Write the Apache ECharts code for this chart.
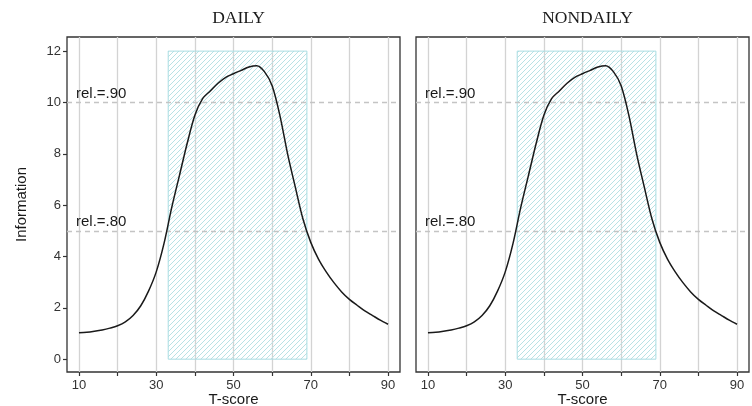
<!DOCTYPE html>
<html><head><meta charset="utf-8">
<script src="https://cdn.jsdelivr.net/npm/echarts@6/dist/echarts.min.js"></script>
<style>html,body{margin:0;padding:0;background:#fff}#c{width:752px;height:406px}</style>
</head><body><div id="c"></div>
<script>
const panels = ['DAILY', 'NONDAILY'];
const tScore = [10,12,14,16,18,20,22,24,26,28,30,32,34,36,38,40,42,44,46,48,50,52,54,56,58,60,62,64,66,68,70,72,74,76,78,80,82,84,86,88,90];
const infoDaily = [1.03,1.05,1.09,1.14,1.21,1.3,1.45,1.7,2.08,2.65,3.4,4.5,5.9,7.15,8.4,9.5,10.15,10.45,10.75,10.98,11.12,11.25,11.38,11.43,11.2,10.65,9.5,8.0,6.7,5.45,4.55,3.9,3.4,2.98,2.62,2.33,2.1,1.88,1.7,1.52,1.36];
const infoNondaily = [1.03,1.05,1.09,1.14,1.21,1.3,1.45,1.7,2.08,2.65,3.4,4.5,5.9,7.15,8.4,9.5,10.15,10.45,10.75,10.98,11.12,11.25,11.38,11.43,11.2,10.65,9.5,8.0,6.7,5.45,4.55,3.9,3.4,2.98,2.62,2.33,2.1,1.88,1.7,1.52,1.36];
const xTicks = [10,20,30,40,50,60,70,80,90];
const xTickLabels = [10,30,50,70,90];
const yTicks = [0,2,4,6,8,10,12];
const relLevels = [10, 5];
const relLabels = ['rel.=.90', 'rel.=.80'];
const bandX = [33.1, 69];
const bandY = [0, 12];

// hatch pattern (transparent background so grid lines show through)
const pc = document.createElement('canvas');
pc.width = 5; pc.height = 5;
const g = pc.getContext('2d');
g.strokeStyle = '#b8e2e5'; g.lineWidth = 1;
g.beginPath();
g.moveTo(-1,6); g.lineTo(6,-1);
g.moveTo(-1,1); g.lineTo(1,-1);
g.moveTo(4,6); g.lineTo(6,4);
g.stroke();

const gridDefs = [{left:67, top:37, width:333, height:335},{left:416, top:37, width:333, height:335}];
const datas = [infoDaily, infoNondaily];

const option = {
  animation:false,
  title: panels.map((t,i)=>({text:t, left: gridDefs[i].left + gridDefs[i].width/2, top: 4, textAlign:'center',
    textStyle:{fontFamily:'Liberation Serif', fontWeight:'normal', fontSize:17.5, color:'#1a1a1a'}})),
  grid: gridDefs.map(d=>Object.assign({show:true, outerBoundsMode:'none', containLabel:false, borderColor:'#333', borderWidth:1.3, backgroundColor:'transparent'}, d)),
  xAxis: gridDefs.map((d,i)=>({type:'value', gridIndex:i, min:6.9, max:93.1, position:'bottom',
    name:'T-score', nameLocation:'middle', nameGap:20, nameMoveOverlap:false,
    nameTextStyle:{fontFamily:'Liberation Sans', fontSize:15, color:'#1a1a1a'},
    axisLine:{show:false, onZero:false},
    axisTick:{show:true, length:4, customValues:xTicks, lineStyle:{color:'#333', width:1.2}},
    axisLabel:{customValues:xTickLabels, fontFamily:'Liberation Sans', fontSize:13, color:'#333', margin:7},
    splitLine:{show:true, lineStyle:{color:'#d3d3d3', width:1.3}}})),
  yAxis: gridDefs.map((d,i)=>({type:'value', gridIndex:i, min:-0.5, max:12.55, position:'left',
    name: i===0 ? 'Information' : '', nameLocation:'middle', nameGap:38, nameRotate:90, nameMoveOverlap:false,
    nameTextStyle:{fontFamily:'Liberation Sans', fontSize:15, color:'#1a1a1a'},
    axisLine:{show:false, onZero:false},
    axisTick:{show:i===0, length:4, customValues:yTicks, lineStyle:{color:'#333', width:1.2}},
    axisLabel:{show:i===0, customValues:yTicks, fontFamily:'Liberation Sans', fontSize:13, color:'#333', margin:6},
    splitLine:{show:false}})),
  series: gridDefs.map((d,i)=>({
    type:'line', xAxisIndex:i, yAxisIndex:i, smooth:0.3, symbol:'none',
    data: tScore.map((x,k)=>[x, datas[i][k]]),
    lineStyle:{color:'#1a1a1a', width:1.5}, z:5,
    markArea:{silent:true, z:1,
      itemStyle:{color:{image:pc, repeat:'repeat'}, borderColor:'#a9dde2', borderWidth:1, opacity:1},
      data:[[{coord:[bandX[0], bandY[0]]},{coord:[bandX[1], bandY[1]]}]]},
    markLine:{silent:true, symbol:'none', z:2,
      lineStyle:{color:'#c4c4c4', type:[5,4], width:1.3},
      label:{show:true, position:'insideStartTop', distance:[9,1], fontFamily:'Liberation Sans', fontSize:15, color:'#1a1a1a'},
      data: relLevels.map((v,k)=>({yAxis:v, label:{formatter:relLabels[k]}}))}
  }))
};
const chart = echarts.init(document.getElementById('c'), null, {renderer:'canvas'});
chart.setOption(option);
</script></body></html>
